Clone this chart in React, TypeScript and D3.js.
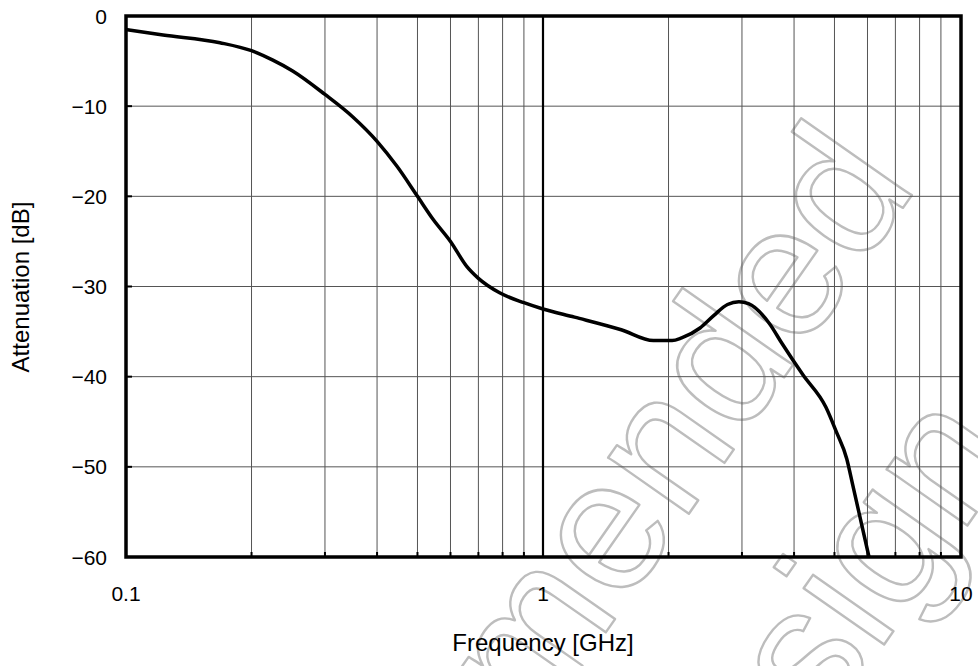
import React, { useEffect, useRef } from 'react';
import * as d3 from 'd3';

// curve: frequency [GHz] vs attenuation [dB]
const freq = [0.1, 0.1227, 0.168, 0.2, 0.225, 0.251, 0.3, 0.35, 0.4, 0.447, 0.5, 0.546, 0.6, 0.657, 0.7, 0.787, 0.9, 1.0,
  1.19, 1.54, 1.84, 2.04, 2.15, 2.38, 2.57, 2.77, 2.95, 3.11, 3.49, 3.74, 4.2, 4.77, 5.05, 5.35, 5.53, 6.05];
const atten = [-1.5, -2.1, -2.96, -3.85, -4.9, -6.1, -8.7, -11.2, -13.9, -16.7, -20.0, -22.6, -25.0, -27.8, -29.1, -30.7, -31.8, -32.5,
  -33.4, -34.8, -36.0, -36.0, -35.7, -34.6, -33.2, -32.0, -31.7, -31.9, -34.1, -36.3, -39.8, -43.4, -46.1, -49.1, -52.0, -60];

const yTicks = [0, -10, -20, -30, -40, -50, -60];
const xTickValues = [0.1, 1, 10];
const xTickLabels = ['0.1', '1', '10'];
const xMinor = [0.2, 0.3, 0.4, 0.5, 0.6, 0.7, 0.8, 0.9, 2, 3, 4, 5, 6, 7, 8, 9];
const watermarkLines = ['Not recommended', 'for new design'];

const W = 978;
const H = 666;

function AttenuationChart() {
  const ref = useRef<SVGSVGElement>(null);

  useEffect(() => {
    const svg = d3.select(ref.current);
    svg.selectAll('*').remove();

    const left = 126, right = 960, top = 16, bottom = 557;
    const font = '"Liberation Sans", Arial, sans-serif';

    const x = d3.scaleLog().domain([0.1, 10]).range([left, right]);
    const y = d3.scaleLinear().domain([0, -60]).range([top, bottom]);

    svg.append('rect').attr('width', W).attr('height', H).attr('fill', '#fff');

    // watermark (outlined text)
    const wm = svg.append('text')
      .attr('transform', 'translate(480,812) rotate(-55)')
      .attr('text-anchor', 'middle')
      .attr('font-family', font)
      .attr('font-size', 186)
      .attr('fill', 'none')
      .attr('stroke', '#bdbdbd')
      .attr('stroke-width', 2.4)
      .attr('stroke-linejoin', 'round');
    watermarkLines.forEach((t, i) => {
      wm.append('tspan').attr('x', 0).attr('dy', i === 0 ? 0 : 235).text(t);
    });

    // grid
    svg.append('g')
      .selectAll('line')
      .data(xMinor)
      .join('line')
      .attr('x1', d => x(d)).attr('x2', d => x(d))
      .attr('y1', top).attr('y2', bottom)
      .attr('stroke', '#555').attr('stroke-width', 1);
    svg.append('g')
      .selectAll('line')
      .data(yTicks.slice(1, -1))
      .join('line')
      .attr('x1', left).attr('x2', right)
      .attr('y1', d => y(d)).attr('y2', d => y(d))
      .attr('stroke', '#555').attr('stroke-width', 1);

    // 1 GHz line
    svg.append('line')
      .attr('x1', x(1)).attr('x2', x(1))
      .attr('y1', top).attr('y2', bottom)
      .attr('stroke', '#000').attr('stroke-width', 2.2);

    // inner ticks
    svg.append('g')
      .selectAll('line')
      .data(xMinor)
      .join('line')
      .attr('x1', d => x(d)).attr('x2', d => x(d))
      .attr('y1', bottom).attr('y2', bottom - 5)
      .attr('stroke', '#000').attr('stroke-width', 2);
    svg.append('g')
      .selectAll('line')
      .data(yTicks.slice(1, -1))
      .join('line')
      .attr('x1', left).attr('x2', left + 6)
      .attr('y1', d => y(d)).attr('y2', d => y(d))
      .attr('stroke', '#000').attr('stroke-width', 2);

    // curve
    const pts = freq.map((f, i) => [f, atten[i]] as [number, number]);
    const line = d3.line<[number, number]>()
      .x(d => x(d[0]))
      .y(d => y(d[1]))
      .curve(d3.curveMonotoneX);
    svg.append('path')
      .datum(pts)
      .attr('fill', 'none')
      .attr('stroke', '#000')
      .attr('stroke-width', 3.5)
      .attr('stroke-linejoin', 'round')
      .attr('d', line);

    // frame
    svg.append('rect')
      .attr('x', left).attr('y', top)
      .attr('width', right - left + 1).attr('height', bottom - top)
      .attr('fill', 'none').attr('stroke', '#000').attr('stroke-width', 3.5);

    // tick labels
    svg.append('g')
      .selectAll('text')
      .data(yTicks)
      .join('text')
      .attr('x', 107)
      .attr('y', d => y(d))
      .attr('dy', '0.36em')
      .attr('text-anchor', 'end')
      .attr('font-family', font)
      .attr('font-size', 21)
      .text(d => (d < 0 ? '\u2212' + Math.abs(d) : String(d)));
    svg.append('g')
      .selectAll('text')
      .data(xTickValues)
      .join('text')
      .attr('x', d => x(d) + (d === 10 ? 1 : 0))
      .attr('y', 601)
      .attr('text-anchor', 'middle')
      .attr('font-family', font)
      .attr('font-size', 21)
      .text((d, i) => xTickLabels[i]);

    // axis titles
    svg.append('text')
      .attr('x', 543)
      .attr('y', 651)
      .attr('text-anchor', 'middle')
      .attr('font-family', font)
      .attr('font-size', 24)
      .text('Frequency [GHz]');
    svg.append('text')
      .attr('transform', 'translate(29,287) rotate(-90)')
      .attr('text-anchor', 'middle')
      .attr('font-family', font)
      .attr('font-size', 24)
      .text('Attenuation [dB]');
  }, []);

  return <svg ref={ref} width={W} height={H} style={{ position: 'absolute', left: 0, top: 0 }} />;
}

export default function App() {
  return <AttenuationChart />;
}
